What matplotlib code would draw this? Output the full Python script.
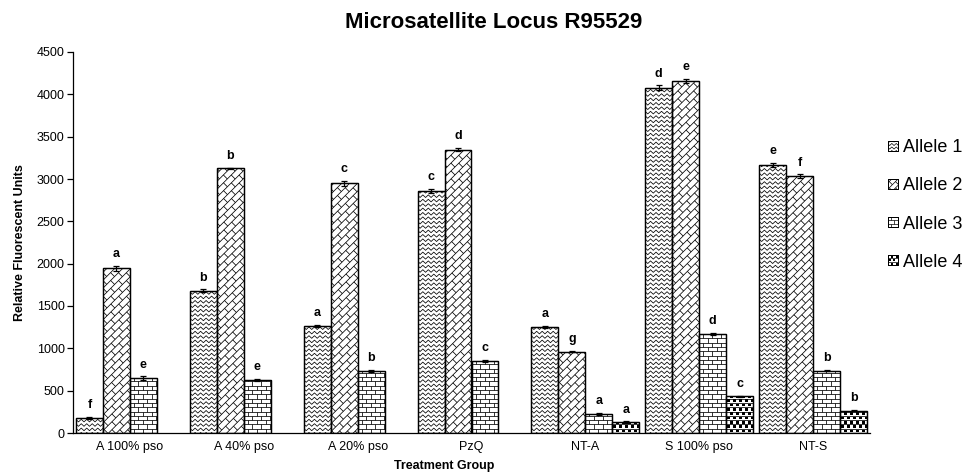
import numpy as np
import matplotlib
matplotlib.use("Agg")
import matplotlib.pyplot as plt
from matplotlib.collections import LineCollection, PatchCollection
from matplotlib.patches import Rectangle
from matplotlib.transforms import IdentityTransform
from matplotlib.legend_handler import HandlerBase

plt.rcParams["font.family"] = ["Liberation Sans", "DejaVu Sans"]

groups = ["A 100% pso", "A 40% pso", "A 20% pso", "PzQ", "NT-A", "S 100% pso", "NT-S"]
alleles = ["Allele 1", "Allele 2", "Allele 3", "Allele 4"]

allele1 = [177, 1682, 1262, 2858, 1250, 4078, 3168]
allele2 = [1948, 3126, 2948, 3348, 962, 4158, 3036]
allele3 = [650, 630, 738, 850, 228, 1172, 738]
allele4 = [np.nan, np.nan, np.nan, np.nan, 132, 432, 264]

err1 = [15, 18, 15, 25, 15, 30, 25]
err2 = [30, 8, 28, 22, 10, 25, 20]
err3 = [22, 12, 12, 12, 10, 12, 10]
err4 = [np.nan, np.nan, np.nan, np.nan, 8, 10, 8]

letters1 = ["f", "b", "a", "c", "a", "d", "e"]
letters2 = ["a", "b", "c", "d", "g", "e", "f"]
letters3 = ["e", "e", "b", "c", "a", "d", "b"]
letters4 = ["", "", "", "", "a", "c", "b"]

values = [allele1, allele2, allele3, allele4]
errors = [err1, err2, err3, err4]
letters = [letters1, letters2, letters3, letters4]
patterns = ["wave", "diagbrick", "brick", "dots"]

W, H = 967, 472
fig = plt.figure(figsize=(W / 100, H / 100), dpi=100)
ax = fig.add_axes([73 / W, 39 / H, (870 - 73) / W, (433 - 52) / H])
ax.set_xlim(-0.5, len(groups) - 0.5)
ax.set_ylim(0, 4500)


def pattern_art(kind, x0, y0, x1, y1, u=1.0):
    """Line segments and filled squares for a fill pattern over a box (u = size of one pixel)."""
    segs, squares = [], []
    m = 14 * u
    if kind == "wave":
        dy, per, amp = 4.4 * u, 5.5 * u, 1.3 * u
        xs = np.arange(x0 - m, x1 + m, per / 2)
        k = np.arange(len(xs))
        for y in np.arange(y0 - m, y1 + m, dy):
            ys = y + np.where(k % 2 == 0, -amp, amp)
            segs.append(np.column_stack([xs, ys]))
    elif kind == "diagbrick":
        s, L = 5.6 * u, 11.0 * u
        d = np.array([1, 1]) / np.sqrt(2)
        n = np.array([-1, 1]) / np.sqrt(2)
        cx, cy = (x0 + x1) / 2, (y0 + y1) / 2
        R = np.hypot(x1 - x0, y1 - y0) / 2 + m
        c = np.array([cx, cy])
        for i, v in enumerate(np.arange(-R, R, s)):
            segs.append([c + v * n - R * d, c + v * n + R * d])
            off = (i % 2) * L / 2
            for t in np.arange(-R, R, L):
                segs.append([c + v * n + (t + off) * d, c + (v + s) * n + (t + off) * d])
    elif kind == "brick":
        dy, L = 4.3 * u, 9.0 * u
        for i, y in enumerate(np.arange(y0, y1 + m, dy)):
            segs.append([(x0 - m, y), (x1 + m, y)])
            off = (i % 2) * L / 2
            for x in np.arange(x0 - m, x1 + m, L):
                segs.append([(x + off, y), (x + off, y + dy)])
    elif kind == "dots":
        dy, L, sq = 4.3 * u, 6.0 * u, 2.6 * u
        for i, y in enumerate(np.arange(y0, y1 + m, dy)):
            segs.append([(x0 - m, y), (x1 + m, y)])
            off = (i % 2) * L / 2
            for x in np.arange(x0 - m, x1 + m, L):
                squares.append(Rectangle((x + off, y + (dy - sq) / 2), sq, sq))
    return segs, squares


n_groups = len(groups)
bw = 27 / 114
x = np.arange(n_groups)

for j in range(4):
    xs = x + (j - 1.5) * bw
    vals = np.array(values[j], dtype=float)
    ok = ~np.isnan(vals)
    bars = ax.bar(xs[ok], vals[ok], width=bw, facecolor="white", edgecolor="black",
                  linewidth=0.9, zorder=2)
    for rect in bars:
        bx0, by0 = ax.transData.transform((rect.get_x(), 0))
        bx1, by1 = ax.transData.transform((rect.get_x() + rect.get_width(), rect.get_height()))
        segs, squares = pattern_art(patterns[j], bx0, by0, bx1, by1)
        lc = LineCollection(segs, colors="black", linewidths=0.55,
                            transform=IdentityTransform(), zorder=2.1)
        lc.set_clip_path(rect)
        fig.add_artist(lc)
        if squares:
            pc = PatchCollection(squares, facecolor="black", edgecolor="none",
                                 transform=IdentityTransform(), zorder=2.1)
            pc.set_clip_path(rect)
            fig.add_artist(pc)
    ax.bar(xs[ok], vals[ok], width=bw, fill=False, edgecolor="black", linewidth=0.9, zorder=2.3)
    errs = np.array(errors[j], dtype=float)
    ax.errorbar(xs[ok], vals[ok], yerr=errs[ok], fmt="none", ecolor="black",
                elinewidth=0.9, capsize=2.5, capthick=0.9, zorder=3)
    for xi, v, e, lab in zip(xs, vals, errs, letters[j]):
        if np.isnan(v) or not lab:
            continue
        ax.annotate(lab, (xi, v + e), xytext=(0, 4), textcoords="offset points",
                    ha="center", va="bottom", fontsize=9, fontweight="bold")

ax.set_yticks(np.arange(0, 4501, 500))
ax.tick_params(axis="y", direction="out", length=4, width=0.9, labelsize=9, pad=2)
ax.set_xticks(x)
ax.set_xticklabels(groups)
ax.tick_params(axis="x", length=0, labelsize=9, pad=6)
for side in ("top", "right"):
    ax.spines[side].set_visible(False)
for side in ("left", "bottom"):
    ax.spines[side].set_linewidth(0.9)
    ax.spines[side].set_zorder(4)

ax.set_ylabel("Relative Fluorescent Units", fontsize=9, fontweight="bold", labelpad=8)
fig.text(444 / W, 1 - 466 / H, "Treatment Group", ha="center", va="center",
         fontsize=9, fontweight="bold")
fig.text(494 / W, 1 - 22 / H, "Microsatellite Locus R95529", ha="center", va="center",
         fontsize=16, fontweight="bold")


class PatternHandler(HandlerBase):
    def __init__(self, kind):
        super().__init__()
        self.kind = kind

    def create_artists(self, legend, orig_handle, xdescent, ydescent, width, height,
                       fontsize, trans):
        side = min(width, height)
        x0, y0 = -xdescent, -ydescent + (height - side) / 2
        rect = Rectangle((x0, y0), side, side, facecolor="white", edgecolor="black",
                         linewidth=0.7, transform=trans)
        u = 0.72 * 0.8
        segs, squares = pattern_art(self.kind, x0, y0, x0 + side, y0 + side, u=u)
        lc = LineCollection(segs, colors="black", linewidths=0.5, transform=trans)
        lc.set_clip_path(rect)
        arts = [rect, lc]
        if squares:
            pc = PatchCollection(squares, facecolor="black", edgecolor="none", transform=trans)
            pc.set_clip_path(rect)
            arts.append(pc)
        outline = Rectangle((x0, y0), side, side, fill=False, edgecolor="black",
                            linewidth=0.7, transform=trans)
        arts.append(outline)
        return arts


handles = [Rectangle((0, 0), 1, 1) for _ in alleles]
fig.legend(handles, alleles, loc="center left", bbox_to_anchor=(875 / W, 1 - 205 / H),
           frameon=False, fontsize=13, handlelength=0.55, handleheight=0.55,
           handletextpad=0.3, labelspacing=1.17, borderpad=0.2,
           handler_map={h: PatternHandler(k) for h, k in zip(handles, patterns)})

fig.savefig("out.png", dpi=100)
